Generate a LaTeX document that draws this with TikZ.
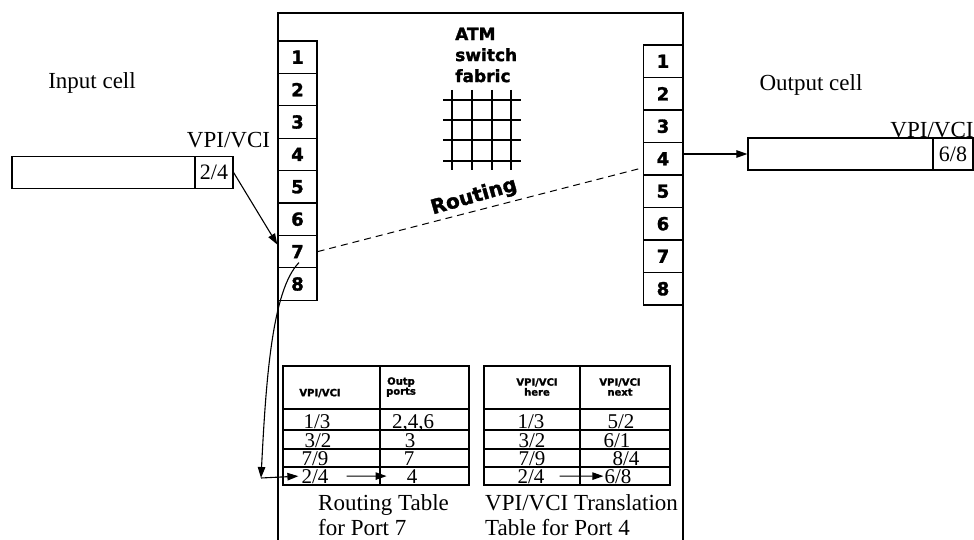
\documentclass[tikz,border=0pt]{standalone}
\usepackage{fontspec}
\setmainfont{Liberation Serif}
\newfontfamily\heavyfont[FakeBold=1.6]{DejaVu Sans Bold}
\usetikzlibrary{arrows.meta}

\tikzset{
	frame/.style={line width=1.3pt},
	portbox/.style={draw, line width=1.3pt, minimum width=39pt, minimum height=32.4pt,
		inner sep=0pt, font=\heavyfont\fontsize{18}{18}\selectfont},
	cellbox/.style={draw, line width=1.2pt, minimum height=32pt, inner sep=0pt,
		font=\fontsize{22}{22}\selectfont},
	lbl/.style={inner sep=0pt, font=\fontsize{23}{25}\selectfont},
	fabriclbl/.style={inner sep=0pt, font=\heavyfont\fontsize{17}{21}\selectfont},
	gridln/.style={line width=1.3pt},
	tbl/.style={line width=1.2pt},
	head/.style={inner sep=0pt, align=center, font=\heavyfont\fontsize{10}{10}\selectfont},
	entry/.style={inner sep=0pt, anchor=base, font=\fontsize{21}{21}\selectfont},
	arr/.style={-{Triangle[length=11pt,width=7.5pt]}, line width=1.1pt},
}

\begin{document}
\begin{tikzpicture}[x=1pt,y=-1pt]
		\useasboundingbox (0,0) rectangle (974,540);
		% switch frame, open at the bottom
		\draw[frame] (278,540) -- (278,13) -- (683,13) -- (683,540);
		% input and output ports
		\foreach \i in {1,...,8}
			{\node[portbox] (lp\i) at (297.5,{24.8+32.4*\i}) {\i};
				\node[portbox] (rp\i) at (663,{28.75+32.5*\i}) {\i};}
		% switch fabric
		\node[fabriclbl, align=left, anchor=west] (fab) at (455,55) {ATM\\switch\\fabric};
		\foreach \x in {452,472,492,511} \draw[gridln] (\x,90) -- (\x,170);
		\foreach \y in {100,120,140,161} \draw[gridln] (443,\y) -- (521,\y);
		\node[fabriclbl, font=\heavyfont\fontsize{20}{20}\selectfont, rotate=16] (rout) at (474,197) {Routing};
		\draw[line width=1pt, dash pattern=on 7pt off 5pt] (lp7.east) -- ([yshift=-9pt]rp4.west);
		% input cell
		\node[lbl] (inlbl) at (92,83) {Input cell};
		\node[cellbox, minimum width=183pt] (incell) at (103.5,172.5) {};
		\node[cellbox, minimum width=38pt] (invpi) at (214,172.5) {2/4};
		\node[lbl] (invpilbl) at (228.5,140) {VPI/VCI};
		\draw[arr] (invpi.east) -- ([yshift=7pt]lp7.west);
		% output cell
		\node[lbl] (outlbl) at (811,85) {Output cell};
		\node[cellbox, minimum width=185pt] (outcell) at (840.5,154) {};
		\node[cellbox, minimum width=40pt] (outvpi) at (953,154) {6/8};
		\node[lbl] (outvpilbl) at (932,130) {VPI/VCI};
		\draw[arr] (outcell.west -| rp4.east) -- (outcell.west);
		% routing table for port 7
		\draw[tbl] (283,366) rectangle (469,485);
		\draw[tbl] (380,366) -- (380,485);
		\foreach \y in {409,430,449,467} \draw[tbl] (283,\y) -- (469,\y);
		\node[head] (rh1) at (320,393) {VPI/VCI};
		\node[head] (rh2) at (401,387) {Outp\\ports};
		\foreach \n/\y/\xa/\a/\xb/\b in {1/428/317/{1/3}/413/{2,4,6}, 2/447/318/{3/2}/410/3,
				3/465/315/{7/9}/409/7, 4/483/315/{2/4}/412/4}
			{\node[entry] (rk\n) at (\xa,\y) {\a};
				\node[entry] (rv\n) at (\xb,\y) {\b};}
		\draw[arr] ([xshift=18pt]rk4.east) -- ([xshift=-20pt]rv4.west);
		% translation table for port 4
		\draw[tbl] (484,366) rectangle (670,485);
		\draw[tbl] (580,366) -- (580,485);
		\foreach \y in {409,430,449,467} \draw[tbl] (484,\y) -- (670,\y);
		\node[head] (th1) at (537,387) {VPI/VCI\\here};
		\node[head] (th2) at (620,387) {VPI/VCI\\next};
		\foreach \n/\y/\xa/\a/\xb/\b in {1/428/531/{1/3}/621/{5/2}, 2/447/532/{3/2}/617/{6/1},
				3/465/532/{7/9}/626/{8/4}, 4/483/531/{2/4}/618/{6/8}}
			{\node[entry] (tk\n) at (\xa,\y) {\a};
				\node[entry] (tv\n) at (\xb,\y) {\b};}
		\draw[arr] ([xshift=15pt]tk4.east) -- ([xshift=-1pt]tv4.west);
		% cell from port 7 looked up in the routing table
		\coordinate (back) at (261,478);
		\draw[arr] ([xshift=1.5pt,yshift=-11pt]lp7.center) .. controls (272,290) and (266,380) .. (back);
		\draw[arr] (back) -- ([xshift=-3pt]rk4.west);
		% captions
		\node[lbl, align=left, anchor=north west] (rcap) at (318,494) {Routing Table\\for Port 7};
		\node[lbl, align=left, anchor=north west] (tcap) at (485,494) {VPI/VCI Translation\\Table for Port 4};
	\end{tikzpicture}
\end{document}
